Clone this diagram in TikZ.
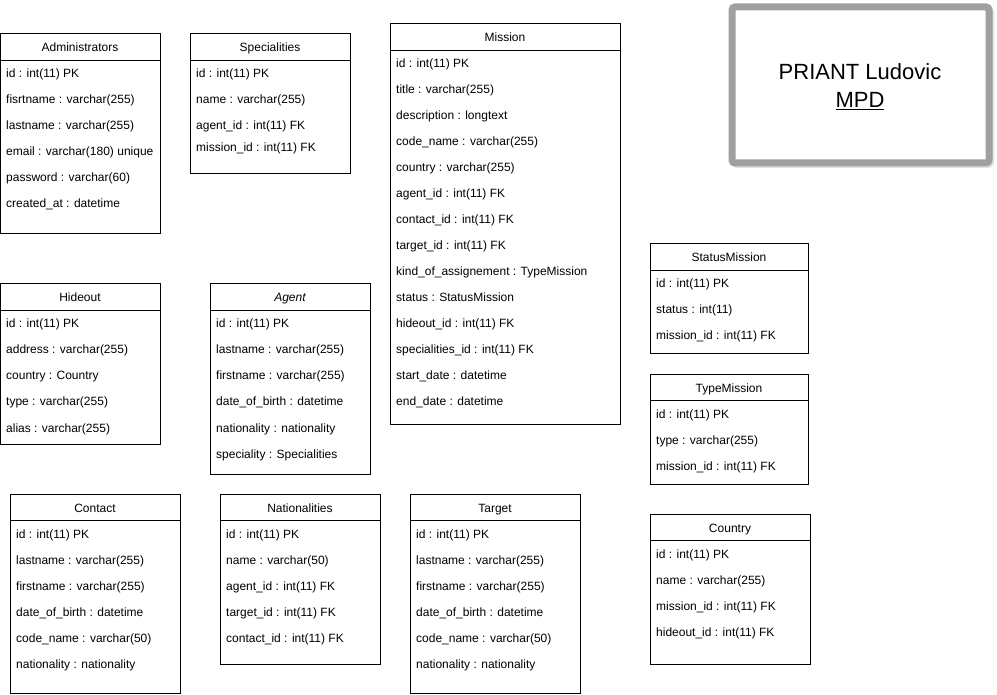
\documentclass[tikz,border=0pt]{standalone}
\usepackage{fontspec}
\setmainfont{Liberation Sans}
\usepackage{tikz}
\usetikzlibrary{positioning}
\definecolor{framegray}{RGB}{160,160,160}
\definecolor{shadowgray}{RGB}{225,225,225}
\tikzset{%
    table/.style={draw=black,line width=1pt,fill=white},
    head/.style={anchor=base,inner sep=0pt,font=\fontsize{12}{14}\selectfont},
    row/.style={anchor=base west,inner sep=0pt,font=\fontsize{12}{14}\selectfont}
}

\begin{document}
\begin{tikzpicture}[x=1pt,y=-1pt]
    \useasboundingbox (0,0) rectangle (997,695);
%   title
    \draw[draw=shadowgray,line width=6pt,rounded corners=3pt] (734,9) rectangle (991,165);
    \draw[draw=framegray,line width=7pt,rounded corners=3pt,fill=white] (732,7) rectangle (989,163);
    \node[font=\fontsize{22}{28}\selectfont,align=center] (title) at (860,87) {PRIANT Ludovic\\\underline{MPD}};
%   Administrators
    \draw[table] (0.5,34) rectangle (160,234);
    \draw (0.5,60)--(160,60);
    \node[head] (adm) at (80,52) {Administrators};
    \foreach \t [count=\i] in {{id : int(11) PK},{fisrtname : varchar(255)},{lastname : varchar(255)},{email : varchar(180) unique},{password : varchar(60)},{created\_at : datetime}}
        \node[row] (adm\i) at (6,{78+26*(\i-1)}) {\t};
%   Specialities
    \draw[table] (190,34) rectangle (350,174);
    \draw (190,60)--(350,60);
    \node[head] (spe) at (270,52) {Specialities};
    \node[row] (spe1) at (196,78) {id : int(11) PK};
    \node[row] (spe2) at (196,104) {name : varchar(255)};
    \node[row] (spe3) at (196,130) {agent\_id : int(11) FK};
    \node[row] (spe4) at (196,152) {mission\_id : int(11) FK};
%   Mission
    \draw[table] (390,24) rectangle (620,424);
    \draw (390,50)--(620,50);
    \node[head] (mis) at (505,42) {Mission};
    \foreach \t [count=\i] in {{id : int(11) PK},{title : varchar(255)},{description : longtext},{code\_name : varchar(255)},{country : varchar(255)},{agent\_id : int(11) FK},{contact\_id : int(11) FK},{target\_id : int(11) FK},{kind\_of\_assignement : TypeMission},{status : StatusMission},{hideout\_id : int(11) FK},{specialities\_id : int(11) FK},{start\_date : datetime},{end\_date : datetime}}
        \node[row] (mis\i) at (396,{68+26*(\i-1)}) {\t};
%   StatusMission
    \draw[table] (650,244) rectangle (808,354);
    \draw (650,270)--(808,270);
    \node[head] (sta) at (729,262) {StatusMission};
    \foreach \t [count=\i] in {{id : int(11) PK},{status : int(11)},{mission\_id : int(11) FK}}
        \node[row] (sta\i) at (656,{288+26*(\i-1)}) {\t};
%   TypeMission
    \draw[table] (650,374) rectangle (808,484);
    \draw (650,400)--(808,400);
    \node[head] (typ) at (729,392) {TypeMission};
    \foreach \t [count=\i] in {{id : int(11) PK},{type : varchar(255)},{mission\_id : int(11) FK}}
        \node[row] (typ\i) at (656,{418+26*(\i-1)}) {\t};
%   Country
    \draw[table] (650,514) rectangle (810,664);
    \draw (650,540)--(810,540);
    \node[head] (cou) at (730,532) {Country};
    \foreach \t [count=\i] in {{id : int(11) PK},{name : varchar(255)},{mission\_id : int(11) FK},{hideout\_id : int(11) FK}}
        \node[row] (cou\i) at (656,{558+26*(\i-1)}) {\t};
%   Hideout
    \draw[table] (0.5,284) rectangle (160,444);
    \draw (0.5,310)--(160,310);
    \node[head] (hid) at (80,302) {Hideout};
    \foreach \t [count=\i] in {{id : int(11) PK},{address : varchar(255)},{country : Country},{type : varchar(255)},{alias : varchar(255)}}
        \node[row] (hid\i) at (6,{328+26*(\i-1)}) {\t};
%   Agent
    \draw[table] (210,284) rectangle (370,474);
    \draw (210,310)--(370,310);
    \node[head,font=\fontsize{12}{14}\selectfont\itshape] (age) at (290,302) {Agent};
    \foreach \t [count=\i] in {{id : int(11) PK},{lastname : varchar(255)},{firstname : varchar(255)},{date\_of\_birth : datetime},{nationality : nationality},{speciality : Specialities}}
        \node[row] (age\i) at (216,{328+26*(\i-1)}) {\t};
%   Contact
    \draw[table] (10,494) rectangle (180,693);
    \draw (10,520)--(180,520);
    \node[head] (con) at (95,512) {Contact};
    \foreach \t [count=\i] in {{id : int(11) PK},{lastname : varchar(255)},{firstname : varchar(255)},{date\_of\_birth : datetime},{code\_name : varchar(50)},{nationality : nationality}}
        \node[row] (con\i) at (16,{538+26*(\i-1)}) {\t};
%   Nationalities
    \draw[table] (220,494) rectangle (380,664);
    \draw (220,520)--(380,520);
    \node[head] (nat) at (300,512) {Nationalities};
    \foreach \t [count=\i] in {{id : int(11) PK},{name : varchar(50)},{agent\_id : int(11) FK},{target\_id : int(11) FK},{contact\_id : int(11) FK}}
        \node[row] (nat\i) at (226,{538+26*(\i-1)}) {\t};
%   Target
    \draw[table] (410,494) rectangle (580,693);
    \draw (410,520)--(580,520);
    \node[head] (tar) at (495,512) {Target};
    \foreach \t [count=\i] in {{id : int(11) PK},{lastname : varchar(255)},{firstname : varchar(255)},{date\_of\_birth : datetime},{code\_name : varchar(50)},{nationality : nationality}}
        \node[row] (tar\i) at (416,{538+26*(\i-1)}) {\t};
\end{tikzpicture}
\end{document}
